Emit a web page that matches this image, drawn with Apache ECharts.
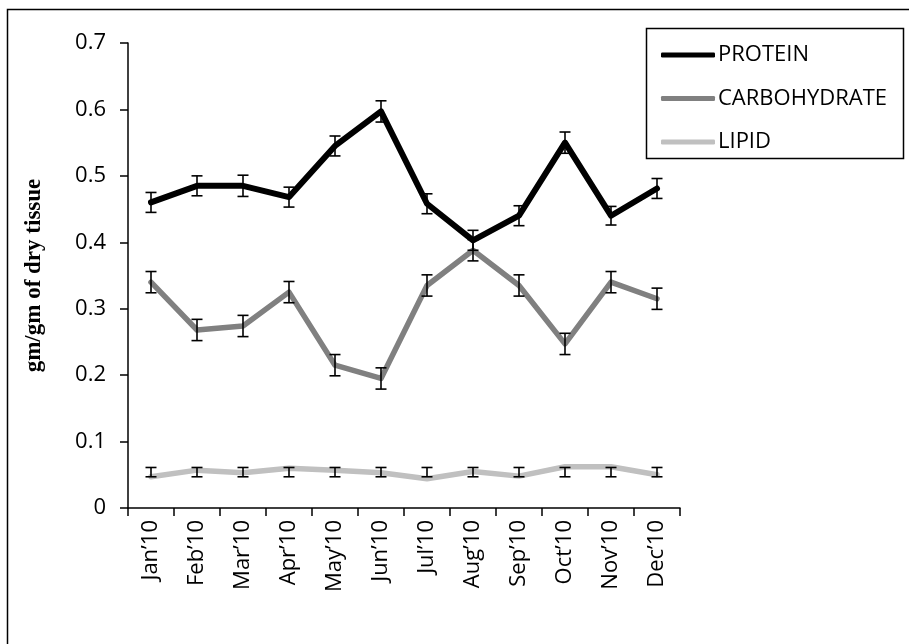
<!DOCTYPE html>
<html>
<head>
<meta charset="utf-8">
<script src="https://cdn.jsdelivr.net/npm/echarts@6/dist/echarts.min.js"></script>
<style>
  html, body { margin: 0; padding: 0; background: #fff; }
  #chart { width: 909px; height: 644px; }
</style>
</head>
<body>
<div id="chart"></div>
<script>
// Monthly composition of tissue (gm/gm of dry tissue), 2010
const months = ["Jan\u201910", "Feb\u201910", "Mar\u201910", "Apr\u201910", "May\u201910", "Jun\u201910",
                "Jul\u201910", "Aug\u201910", "Sep\u201910", "Oct\u201910", "Nov\u201910", "Dec\u201910"];

const protein      = [0.460, 0.485, 0.485, 0.468, 0.545, 0.597, 0.458, 0.403, 0.440, 0.550, 0.440, 0.481];
const carbohydrate = [0.340, 0.268, 0.274, 0.325, 0.215, 0.195, 0.335, 0.388, 0.335, 0.247, 0.340, 0.315];
const lipid        = [0.047, 0.057, 0.053, 0.060, 0.057, 0.053, 0.044, 0.055, 0.048, 0.062, 0.062, 0.050];

// Standard error (± around the mean)
const proteinErr      = [0.015, 0.015, 0.016, 0.015, 0.015, 0.016, 0.015, 0.015, 0.015, 0.016, 0.014, 0.015];
const carbohydrateErr = [0.016, 0.016, 0.016, 0.016, 0.016, 0.016, 0.016, 0.016, 0.016, 0.016, 0.016, 0.016];

// Lipid error bars (low / high bounds)
const lipidLow  = [0.047, 0.047, 0.047, 0.047, 0.047, 0.047, 0.047, 0.047, 0.047, 0.047, 0.047, 0.047];
const lipidHigh = [0.061, 0.061, 0.061, 0.061, 0.061, 0.061, 0.061, 0.061, 0.061, 0.061, 0.061, 0.061];

const yTicks = [0, 0.1, 0.2, 0.3, 0.4, 0.5, 0.6, 0.7];
const seriesNames = ['PROTEIN', 'CARBOHYDRATE', 'LIPID'];

const chart = echarts.init(document.getElementById('chart'), null, { renderer: 'canvas' });

function errorRows(mean, err) {
  return mean.map((v, i) => [i, v - err[i], v + err[i]]);
}
function boundRows(low, high) {
  return low.map((v, i) => [i, v, high[i]]);
}

function renderErrorBar(params, api) {
  const lo = api.coord([api.value(0), api.value(1)]);
  const hi = api.coord([api.value(0), api.value(2)]);
  const half = 5.5;
  const style = { stroke: '#000', lineWidth: 1.6, fill: null };
  return {
    type: 'group',
    children: [
      { type: 'line', shape: { x1: hi[0], y1: hi[1], x2: lo[0], y2: lo[1] }, style },
      { type: 'line', shape: { x1: hi[0] - half, y1: hi[1], x2: hi[0] + half, y2: hi[1] }, style },
      { type: 'line', shape: { x1: lo[0] - half, y1: lo[1], x2: lo[0] + half, y2: lo[1] }, style }
    ]
  };
}

function errorSeries(rows) {
  return {
    type: 'custom',
    renderItem: renderErrorBar,
    data: rows,
    encode: { x: 0, y: [1, 2] },
    z: 5,
    silent: true
  };
}

function lineSeries(name, data, color, width) {
  return {
    name,
    type: 'line',
    data,
    symbol: 'none',
    lineStyle: { color, width, join: 'round', cap: 'round' },
    itemStyle: { color },
    z: 3
  };
}

const labelFont = "'Open Sans', 'DejaVu Sans', sans-serif";

chart.setOption({
  animation: false,
  backgroundColor: '#fff',
  grid: { left: 128, right: 229, top: 43, bottom: 136, containLabel: false },
  graphic: [
    {
      type: 'rect',
      shape: { x: 7.5, y: 9.5, width: 940, height: 700 },
      style: { fill: null, stroke: '#000', lineWidth: 1.5 },
      z: 0
    },
    {
      type: 'rect',
      shape: { x: 646.5, y: 28.5, width: 257, height: 130 },
      style: { fill: '#fff', stroke: '#000', lineWidth: 1.5 },
      z: 0
    }
  ],
  legend: {
    orient: 'vertical',
    left: 656,
    top: 38,
    itemGap: 19.5,
    itemWidth: 54,
    itemHeight: 5,
    icon: 'roundRect',
    textStyle: { fontFamily: labelFont, fontSize: 22, lineHeight: 24, color: '#000', padding: [0, 0, 0, -2] },
    data: seriesNames
  },
  xAxis: {
    type: 'category',
    data: months,
    boundaryGap: true,
    axisLine: { lineStyle: { color: '#000', width: 1.5 } },
    axisTick: { show: true, length: 8, lineStyle: { color: '#000', width: 1.5 } },
    axisLabel: {
      rotate: 90,
      margin: 12,
      interval: 0,
      fontFamily: labelFont,
      fontSize: 22,
      color: '#000'
    },
    splitLine: { show: false }
  },
  yAxis: {
    type: 'value',
    min: yTicks[0],
    max: yTicks[yTicks.length - 1],
    interval: 0.1,
    name: 'gm/gm of dry tissue',
    nameLocation: 'middle',
    nameGap: 82,
    nameRotate: 90,
    nameTextStyle: {
      fontFamily: "'Liberation Serif', 'DejaVu Serif', serif",
      fontWeight: 'bold',
      fontSize: 23,
      color: '#000'
    },
    axisLine: { show: true, lineStyle: { color: '#000', width: 1.5 } },
    axisTick: { show: true, length: 8, lineStyle: { color: '#000', width: 1.5 } },
    axisLabel: {
      margin: 22,
      fontFamily: labelFont,
      fontSize: 22,
      color: '#000',
      formatter: v => (v === 0 ? '0' : v.toFixed(1))
    },
    splitLine: { show: false }
  },
  series: [
    lineSeries(seriesNames[0], protein, '#000000', 6),
    lineSeries(seriesNames[1], carbohydrate, '#808080', 5.5),
    lineSeries(seriesNames[2], lipid, '#c0c0c0', 5.5),
    errorSeries(errorRows(protein, proteinErr)),
    errorSeries(errorRows(carbohydrate, carbohydrateErr)),
    errorSeries(boundRows(lipidLow, lipidHigh))
  ]
});
</script>
</body>
</html>
